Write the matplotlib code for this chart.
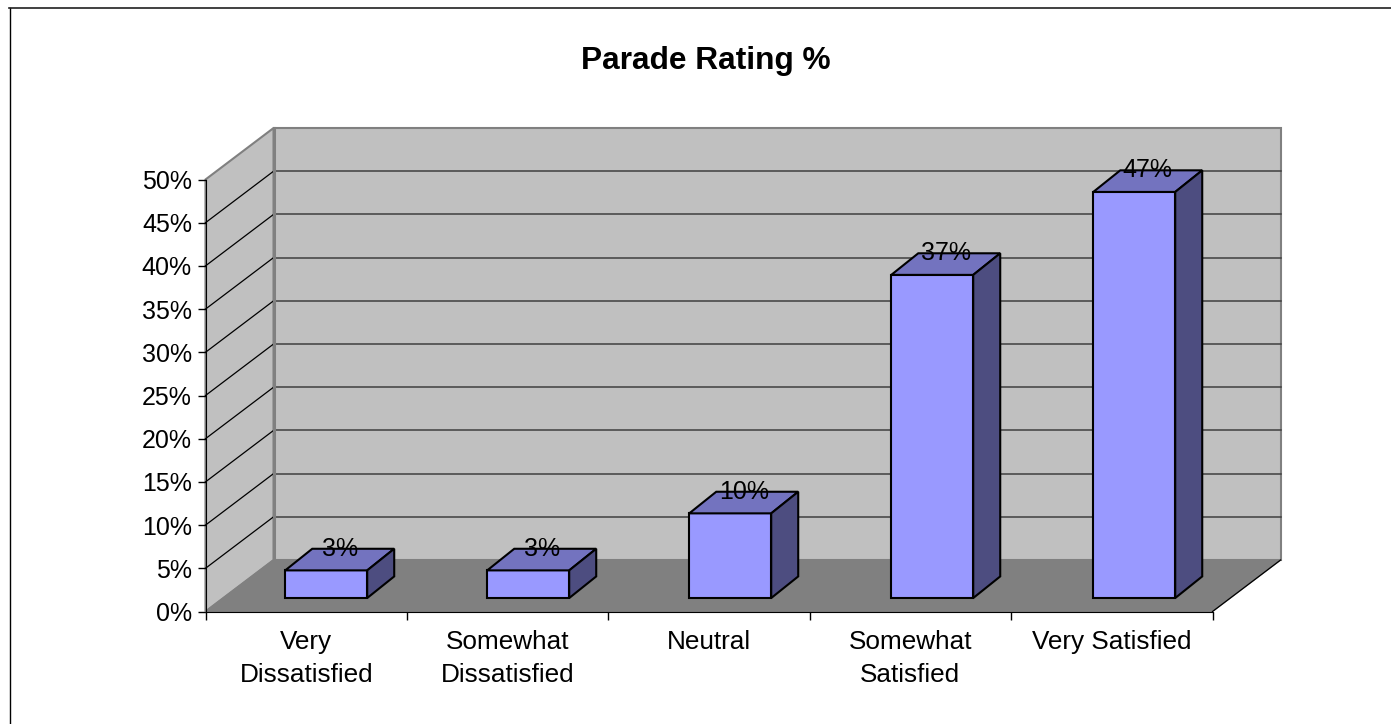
#!/usr/bin/env python3

import matplotlib
matplotlib.use("Agg")
import matplotlib.pyplot as plt
from matplotlib.lines import Line2D
from matplotlib.patches import Polygon

categories = ["Very\nDissatisfied", "Somewhat\nDissatisfied", "Neutral", "Somewhat\nSatisfied", "Very Satisfied"]
values = [3.2, 3.2, 9.8, 37.4, 47.0]
value_labels = ["3%", "3%", "10%", "37%", "47%"]
y_ticks = [0, 5, 10, 15, 20, 25, 30, 35, 40, 45, 50]

W, H = 1391, 724
plt.rcParams["font.family"] = ["Liberation Sans", "DejaVu Sans"]

fig = plt.figure(figsize=(W/100.0, H/100.0), dpi=100)
# only top and left of the outer frame show
fig.add_artist(Line2D([9.5/W, 9.5/W], [0, 1-8/H], color="black", lw=1.0))
fig.add_artist(Line2D([9/W, 1], [1-8/H, 1-8/H], color="#202020", lw=1.2))

# axes = the front plane of the 3d box
ax = fig.add_axes([205.5/W, 1-611.5/H, 1007.0/W, 432.0/H])
ax.set_xlim(0, 5)
ax.set_ylim(0, 50)
ax.patch.set_visible(False)

# depth of box and of bars, in axis units
dx = 0.338
dy = 5.96
bar_x = 0.396
bar_step = 1.003
bar_w = 0.407
bar_base = 1.56
bar_dx = 0.134
bar_dy = 2.5

wall = "#c0c0c0"
floor = "#808080"
edge = "#808080"

# side wall, back wall, floor
ax.add_patch(Polygon([(0, 0), (dx, dy), (dx, 50+dy), (0, 50)], closed=True, fc=wall, ec=edge, lw=1.5, clip_on=False, zorder=1))
ax.add_patch(Polygon([(dx, dy), (5+dx, dy), (5+dx, 50+dy), (dx, 50+dy)], closed=True, fc=wall, ec=edge, lw=1.5, clip_on=False, zorder=1))
ax.add_patch(Polygon([(0, 0), (5, 0), (5+dx, dy), (dx, dy)], closed=True, fc=floor, ec=floor, lw=1.0, clip_on=False, zorder=2))

# gridlines along wall
for t in y_ticks[1:-1]:
    ax.plot([0, dx], [t, t+dy], color="black", lw=0.9, clip_on=False, zorder=3)
    ax.plot([dx, 5+dx], [t+dy, t+dy], color="#404040", lw=1.1, clip_on=False, zorder=3)
ax.plot([dx, dx], [dy, 50+dy], color=edge, lw=2.2, clip_on=False, zorder=3.5)
ax.plot([5, 5+dx], [0, dy], color="black", lw=0.9, clip_on=False, zorder=3)

# bars
for i, v in enumerate(values):
    x0 = i*bar_step+bar_x
    x1 = x0+bar_w
    y0 = bar_base
    y1 = y0+v
    ax.add_patch(Polygon([(x0, y0), (x1, y0), (x1, y1), (x0, y1)], closed=True, fc="#9999ff", ec="black", lw=1.5, clip_on=False, zorder=5))
    ax.add_patch(Polygon([(x0, y1), (x1, y1), (x1+bar_dx, y1+bar_dy), (x0+bar_dx, y1+bar_dy)], closed=True, fc="#7373bf", ec="black", lw=1.5, clip_on=False, zorder=5))
    ax.add_patch(Polygon([(x1, y0), (x1+bar_dx, y0+bar_dy), (x1+bar_dx, y1+bar_dy), (x1, y1)], closed=True, fc="#4d4d80", ec="black", lw=1.5, clip_on=False, zorder=5))
    ax.text(x0+bar_w/2+bar_dx/2, y1+bar_dy, value_labels[i], ha="center", va="center", fontsize=18, color="black", zorder=6)

ax.set_yticks(y_ticks)
ax.set_yticklabels(["%d%%" % t for t in y_ticks], fontsize=18)
ax.set_xticks(range(6))
ax.set_xticklabels([])
ax.tick_params(axis="y", length=5.8, width=1, pad=4)
ax.tick_params(axis="x", length=5.8, width=1)
for s in ["top", "right"]:
    ax.spines[s].set_visible(False)
ax.spines["left"].set_zorder(4)
ax.spines["bottom"].set_zorder(4)

for i, c in enumerate(categories):
    ax.annotate(c, (i+0.5, 0), xytext=(0, -13.5), textcoords="offset points", ha="center", va="top",
                fontsize=18.8, linespacing=1.45, annotation_clip=False)

fig.text(706/W, 1-61/H, "Parade Rating %", ha="center", va="center", fontsize=22.8, fontweight="bold")

fig.savefig("out.png", dpi=100)
